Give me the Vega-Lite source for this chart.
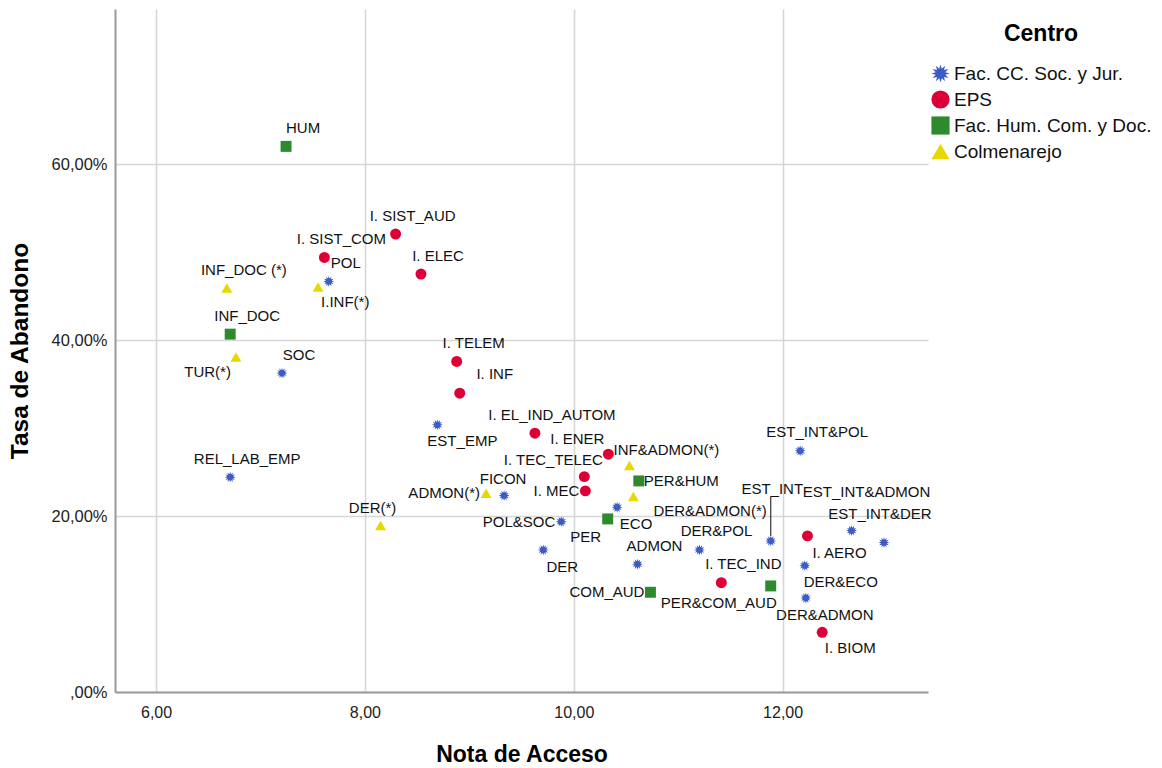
{
  "$schema": "https://vega.github.io/schema/vega-lite/v6.json",
  "width": 813,
  "height": 683,
  "autosize": {"type": "none"},
  "padding": {"left": 115, "top": 9, "right": 234, "bottom": 76},
  "background": "white",
  "config": {"view": {"stroke": null}, "font": "Liberation Sans", "text": {"font": "Liberation Sans", "fontSize": 15, "color": "#111"}},
  "data": {"values": [
    {"name": "POL", "nota": 7.654, "tasa": 0.4668, "centro": "Fac. CC. Soc. y Jur."},
    {"name": "SOC", "nota": 7.206, "tasa": 0.3626, "centro": "Fac. CC. Soc. y Jur."},
    {"name": "REL_LAB_EMP", "nota": 6.71, "tasa": 0.2443, "centro": "Fac. CC. Soc. y Jur."},
    {"name": "EST_EMP", "nota": 8.694, "tasa": 0.3038, "centro": "Fac. CC. Soc. y Jur."},
    {"name": "FICON", "nota": 9.333, "tasa": 0.2233, "centro": "Fac. CC. Soc. y Jur."},
    {"name": "POL&SOC", "nota": 9.88, "tasa": 0.1937, "centro": "Fac. CC. Soc. y Jur."},
    {"name": "DER", "nota": 9.708, "tasa": 0.1615, "centro": "Fac. CC. Soc. y Jur."},
    {"name": "ECO", "nota": 10.415, "tasa": 0.2101, "centro": "Fac. CC. Soc. y Jur."},
    {"name": "ADMON", "nota": 10.61, "tasa": 0.1453, "centro": "Fac. CC. Soc. y Jur."},
    {"name": "DER&POL", "nota": 11.204, "tasa": 0.1615, "centro": "Fac. CC. Soc. y Jur."},
    {"name": "EST_INT", "nota": 11.886, "tasa": 0.1718, "centro": "Fac. CC. Soc. y Jur."},
    {"name": "EST_INT&POL", "nota": 12.168, "tasa": 0.2742, "centro": "Fac. CC. Soc. y Jur."},
    {"name": "EST_INT&ADMON", "nota": 12.66, "tasa": 0.1835, "centro": "Fac. CC. Soc. y Jur."},
    {"name": "EST_INT&DER", "nota": 12.97, "tasa": 0.1699, "centro": "Fac. CC. Soc. y Jur."},
    {"name": "DER&ECO", "nota": 12.212, "tasa": 0.1437, "centro": "Fac. CC. Soc. y Jur."},
    {"name": "DER&ADMON", "nota": 12.222, "tasa": 0.1069, "centro": "Fac. CC. Soc. y Jur."},
    {"name": "I. SIST_AUD", "nota": 8.294, "tasa": 0.5207, "centro": "EPS"},
    {"name": "I. SIST_COM", "nota": 7.612, "tasa": 0.4941, "centro": "EPS"},
    {"name": "I. ELEC", "nota": 8.537, "tasa": 0.4752, "centro": "EPS"},
    {"name": "I. TELEM", "nota": 8.879, "tasa": 0.3758, "centro": "EPS"},
    {"name": "I. INF", "nota": 8.908, "tasa": 0.3398, "centro": "EPS"},
    {"name": "I. EL_IND_AUTOM", "nota": 9.628, "tasa": 0.2943, "centro": "EPS"},
    {"name": "I. ENER", "nota": 10.331, "tasa": 0.2704, "centro": "EPS"},
    {"name": "I. TEC_TELEC", "nota": 10.101, "tasa": 0.2449, "centro": "EPS"},
    {"name": "I. MEC", "nota": 10.111, "tasa": 0.2287, "centro": "EPS"},
    {"name": "I. TEC_IND", "nota": 11.413, "tasa": 0.1243, "centro": "EPS"},
    {"name": "I. AERO", "nota": 12.238, "tasa": 0.1775, "centro": "EPS"},
    {"name": "I. BIOM", "nota": 12.379, "tasa": 0.0679, "centro": "EPS"},
    {"name": "HUM", "nota": 7.245, "tasa": 0.6204, "centro": "Fac. Hum. Com. y Doc."},
    {"name": "INF_DOC", "nota": 6.71, "tasa": 0.4069, "centro": "Fac. Hum. Com. y Doc."},
    {"name": "PER&HUM", "nota": 10.623, "tasa": 0.24, "centro": "Fac. Hum. Com. y Doc."},
    {"name": "PER", "nota": 10.325, "tasa": 0.1968, "centro": "Fac. Hum. Com. y Doc."},
    {"name": "COM_AUD", "nota": 10.734, "tasa": 0.1134, "centro": "Fac. Hum. Com. y Doc."},
    {"name": "PER&COM_AUD", "nota": 11.886, "tasa": 0.1206, "centro": "Fac. Hum. Com. y Doc."},
    {"name": "INF_DOC (*)", "nota": 6.678, "tasa": 0.4593, "centro": "Colmenarejo"},
    {"name": "I.INF(*)", "nota": 7.552, "tasa": 0.4604, "centro": "Colmenarejo"},
    {"name": "TUR(*)", "nota": 6.765, "tasa": 0.3808, "centro": "Colmenarejo"},
    {"name": "DER(*)", "nota": 8.15, "tasa": 0.1892, "centro": "Colmenarejo"},
    {"name": "ADMON(*)", "nota": 9.16, "tasa": 0.2261, "centro": "Colmenarejo"},
    {"name": "INF&ADMON(*)", "nota": 10.533, "tasa": 0.2575, "centro": "Colmenarejo"},
    {"name": "DER&ADMON(*)", "nota": 10.571, "tasa": 0.2222, "centro": "Colmenarejo"}
  ]},
  "encoding": {
    "x": {"field": "nota", "type": "quantitative",
      "scale": {"domain": [5.607, 13.392], "nice": false, "zero": false},
      "axis": {"values": [6, 8, 10, 12], "title": "Nota de Acceso", "titleFontSize": 23, "titleFontWeight": "bold", "titleColor": "#000", "titlePadding": 23,
        "labelExpr": "replace(format(datum.value, '.2f'), '.', ',')", "labelFontSize": 16, "labelColor": "#222", "labelPadding": 12,
        "ticks": false, "domainColor": "#9a9a9a", "domainWidth": 2, "grid": true, "gridColor": "#d6d6d6", "gridWidth": 1.6, "labelFlush": false, "labelOverlap": false}},
    "y": {"field": "tasa", "type": "quantitative",
      "scale": {"domain": [0, 0.7766], "nice": false, "zero": true},
      "axis": {"values": [0, 0.2, 0.4, 0.6], "title": "Tasa de Abandono", "titleFontSize": 24.5, "titleFontWeight": "bold", "titleColor": "#000", "titlePadding": 19,
        "labelExpr": "datum.value == 0 ? ',00%' : replace(format(datum.value, '.2%'), '.', ',')", "labelFontSize": 16.5, "labelColor": "#222", "labelPadding": 8,
        "ticks": false, "domainColor": "#9a9a9a", "domainWidth": 2, "grid": true, "gridColor": "#d6d6d6", "gridWidth": 1.6, "labelFlush": false, "labelOverlap": false}}
  },
  "layer": [
    {"mark": {"type": "point", "filled": true, "size": 120, "opacity": 1},
     "encoding": {
       "color": {"field": "centro", "type": "nominal",
         "scale": {"domain": ["Fac. CC. Soc. y Jur.", "EPS", "Fac. Hum. Com. y Doc.", "Colmenarejo"], "range": ["#3b5cc4", "#dd0036", "#2d8a2d", "#e8d700"]},
         "legend": {"title": "Centro", "orient": "none", "legendX": 816, "legendY": 14, "titleFontSize": 23, "titleFontWeight": "bold", "titleColor": "#000", "titleAnchor": "middle", "titlePadding": 18, "labelFontSize": 19, "labelColor": "#111", "labelLimit": 0, "symbolSize": 330, "rowPadding": 6, "labelOffset": 4, "padding": 0, "symbolStrokeWidth": 0, "symbolOpacity": 1}},
       "shape": {"field": "centro", "type": "nominal",
         "scale": {"domain": ["Fac. CC. Soc. y Jur.", "EPS", "Fac. Hum. Com. y Doc.", "Colmenarejo"], "range": ["M0,-1L0.142,-0.531L0.5,-0.866L0.389,-0.389L0.866,-0.5L0.531,-0.142L1,0L0.531,0.142L0.866,0.5L0.389,0.389L0.5,0.866L0.142,0.531L0,1L-0.142,0.531L-0.5,0.866L-0.389,0.389L-0.866,0.5L-0.531,0.142L-1,0L-0.531,-0.142L-0.866,-0.5L-0.389,-0.389L-0.5,-0.866L-0.142,-0.531Z", "circle", "square", "triangle-up"]},
         "legend": {"title": "Centro", "orient": "none", "legendX": 816, "legendY": 14, "titleFontSize": 23, "titleFontWeight": "bold", "titleColor": "#000", "titleAnchor": "middle", "titlePadding": 18, "labelFontSize": 19, "labelColor": "#111", "labelLimit": 0, "symbolSize": 330, "rowPadding": 6, "labelOffset": 4, "padding": 0, "symbolStrokeWidth": 0, "symbolOpacity": 1}}
     }},
    {"transform": [{"filter": {"field": "name", "equal": "EST_INT"}}],
     "mark": {"type": "rule", "color": "#333", "strokeWidth": 1.2, "yOffset": -5, "y2Offset": -44},
     "encoding": {"y2": {"field": "tasa"}}},
    {"transform": [{"filter": {"field": "name", "oneOf": ["HUM", "I. SIST_COM", "POL", "INF_DOC (*)", "INF_DOC", "SOC", "REL_LAB_EMP", "I. SIST_AUD", "I. ELEC", "I. TELEM", "I. EL_IND_AUTOM", "ADMON", "DER&POL", "EST_INT&POL"]}}],
     "mark": {"type": "text", "align": "center", "baseline": "middle", "dx": 17, "dy": -18.5}, "encoding": {"text": {"field": "name"}}},
    {"transform": [{"filter": {"field": "name", "oneOf": ["I. TEC_IND"]}}],
     "mark": {"type": "text", "align": "center", "baseline": "middle", "dx": 22, "dy": -18.5}, "encoding": {"text": {"field": "name"}}},
    {"transform": [{"filter": {"field": "name", "oneOf": ["I. INF"]}}],
     "mark": {"type": "text", "align": "center", "baseline": "middle", "dx": 35, "dy": -19}, "encoding": {"text": {"field": "name"}}},
    {"transform": [{"filter": {"field": "name", "oneOf": ["DER(*)"]}}],
     "mark": {"type": "text", "align": "center", "baseline": "middle", "dx": -8, "dy": -18}, "encoding": {"text": {"field": "name"}}},
    {"transform": [{"filter": {"field": "name", "oneOf": ["FICON"]}}],
     "mark": {"type": "text", "align": "center", "baseline": "middle", "dx": -1, "dy": -17}, "encoding": {"text": {"field": "name"}}},
    {"transform": [{"filter": {"field": "name", "oneOf": ["I. ENER"]}}],
     "mark": {"type": "text", "align": "center", "baseline": "middle", "dx": -31, "dy": -15}, "encoding": {"text": {"field": "name"}}},
    {"transform": [{"filter": {"field": "name", "oneOf": ["I. TEC_TELEC"]}}],
     "mark": {"type": "text", "align": "center", "baseline": "middle", "dx": -31, "dy": -17}, "encoding": {"text": {"field": "name"}}},
    {"transform": [{"filter": {"field": "name", "oneOf": ["INF&ADMON(*)"]}}],
     "mark": {"type": "text", "align": "center", "baseline": "middle", "dx": 37, "dy": -16}, "encoding": {"text": {"field": "name"}}},
    {"transform": [{"filter": {"field": "name", "oneOf": ["EST_INT"]}}],
     "mark": {"type": "text", "align": "center", "baseline": "middle", "dx": 1.5, "dy": -52}, "encoding": {"text": {"field": "name"}}},
    {"transform": [{"filter": {"field": "name", "oneOf": ["EST_INT&ADMON"]}}],
     "mark": {"type": "text", "align": "center", "baseline": "middle", "dx": 15, "dy": -39}, "encoding": {"text": {"field": "name"}}},
    {"transform": [{"filter": {"field": "name", "oneOf": ["EST_INT&DER"]}}],
     "mark": {"type": "text", "align": "center", "baseline": "middle", "dx": -4, "dy": -29}, "encoding": {"text": {"field": "name"}}},
    {"transform": [{"filter": {"field": "name", "oneOf": ["ADMON(*)", "I. MEC", "POL&SOC", "COM_AUD"]}}],
     "mark": {"type": "text", "align": "right", "baseline": "middle", "dx": -6, "dy": 0}, "encoding": {"text": {"field": "name"}}},
    {"transform": [{"filter": {"field": "name", "oneOf": ["PER&HUM"]}}],
     "mark": {"type": "text", "align": "left", "baseline": "middle", "dx": 5, "dy": 0}, "encoding": {"text": {"field": "name"}}},
    {"transform": [{"filter": {"field": "name", "oneOf": ["TUR(*)"]}}],
     "mark": {"type": "text", "align": "right", "baseline": "middle", "dx": -5, "dy": 15}, "encoding": {"text": {"field": "name"}}},
    {"transform": [{"filter": {"field": "name", "oneOf": ["I.INF(*)"]}}],
     "mark": {"type": "text", "align": "left", "baseline": "middle", "dx": 3, "dy": 15}, "encoding": {"text": {"field": "name"}}},
    {"transform": [{"filter": {"field": "name", "oneOf": ["PER&COM_AUD"]}}],
     "mark": {"type": "text", "align": "right", "baseline": "middle", "dx": 6, "dy": 17}, "encoding": {"text": {"field": "name"}}},
    {"transform": [{"filter": {"field": "name", "oneOf": ["DER&ADMON(*)"]}}],
     "mark": {"type": "text", "align": "left", "baseline": "middle", "dx": 20, "dy": 14}, "encoding": {"text": {"field": "name"}}},
    {"transform": [{"filter": {"field": "name", "oneOf": ["ECO", "DER", "DER&ADMON"]}}],
     "mark": {"type": "text", "align": "center", "baseline": "middle", "dx": 19, "dy": 17}, "encoding": {"text": {"field": "name"}}},
    {"transform": [{"filter": {"field": "name", "oneOf": ["EST_EMP"]}}],
     "mark": {"type": "text", "align": "center", "baseline": "middle", "dx": 25, "dy": 16}, "encoding": {"text": {"field": "name"}}},
    {"transform": [{"filter": {"field": "name", "oneOf": ["PER"]}}],
     "mark": {"type": "text", "align": "center", "baseline": "middle", "dx": -22, "dy": 18}, "encoding": {"text": {"field": "name"}}},
    {"transform": [{"filter": {"field": "name", "oneOf": ["I. AERO"]}}],
     "mark": {"type": "text", "align": "center", "baseline": "middle", "dx": 32, "dy": 17}, "encoding": {"text": {"field": "name"}}},
    {"transform": [{"filter": {"field": "name", "oneOf": ["DER&ECO"]}}],
     "mark": {"type": "text", "align": "center", "baseline": "middle", "dx": 36, "dy": 16}, "encoding": {"text": {"field": "name"}}},
    {"transform": [{"filter": {"field": "name", "oneOf": ["I. BIOM"]}}],
     "mark": {"type": "text", "align": "center", "baseline": "middle", "dx": 28, "dy": 16}, "encoding": {"text": {"field": "name"}}}
  ]
}
